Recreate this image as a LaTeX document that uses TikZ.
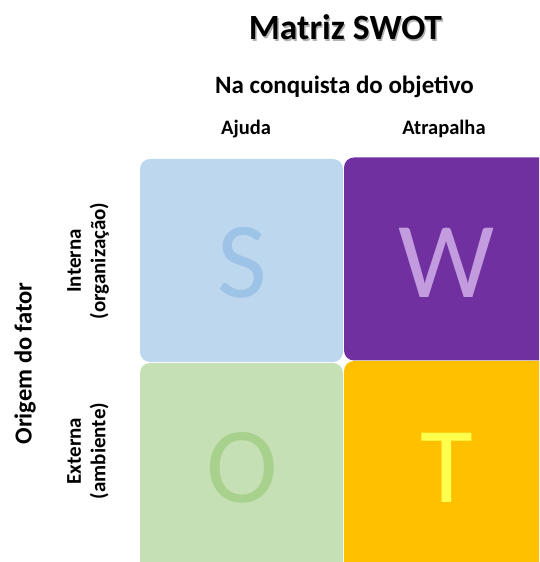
\documentclass[tikz,border=0pt]{standalone}
\usepackage{fontspec}
\setmainfont{Carlito}
\definecolor{sbox}{HTML}{BDD7EE}
\definecolor{sletter}{HTML}{9DC3E6}
\definecolor{wbox}{HTML}{7030A0}
\definecolor{wletter}{HTML}{C39BDF}
\definecolor{obox}{HTML}{C5E0B4}
\definecolor{oletter}{HTML}{A9D18E}
\definecolor{tbox}{HTML}{FFC000}
\definecolor{tletter}{HTML}{FFFF4D}
\newcommand{\shadowtext}[1]{\rlap{\kern1.3pt\raisebox{-1.8pt}{\textcolor{black!30}{#1}}}#1}
\begin{document}
\begin{tikzpicture}[x=1pt,y=1pt,
  quad/.style={rounded corners=10pt, inner sep=0pt, minimum width=203pt, minimum height=203pt},
  letter/.style={inner sep=0pt, font=\fontsize{108}{108}\selectfont},
  head/.style={font=\bfseries\fontsize{20.5}{22}\selectfont},
  side/.style={font=\bfseries\fontsize{21}{24.5}\selectfont, rotate=90, align=center}]
\useasboundingbox (0,0) rectangle (539,562);
\clip (0,0) rectangle (539,562);
% title with shadow
\node[font=\bfseries\fontsize{35.5}{40}\selectfont] (title) at (345.5,534) {\shadowtext{Matriz SWOT}};
\node[font=\bfseries\fontsize{25}{28}\selectfont] (na) at (344.5,475) {Na conquista do objetivo};
\node[head] (ajuda) at (246,433) {Ajuda};
\node[head] (atrap) at (444,433) {Atrapalha};
% boxes
\node[quad, fill=sbox] (S) at (241.5,301.5) {};
\node[quad, fill=wbox, minimum width=205pt] (W) at (446.5,303) {};
\node[quad, fill=obox, minimum height=210pt] (O) at (241.5,94) {};
\node[quad, fill=tbox, minimum width=205pt, minimum height=212pt] (T) at (446.5,95) {};
% letters
\node[letter, text=sletter] (Sl) at (242,299) {S};
\node[letter, text=wletter] (Wl) at (447,299.5) {W};
\node[letter, text=oletter] (Ol) at (242,94) {O};
\node[letter, text=tletter] (Tl) at (447,94.5) {T};
% side labels
\node[side, font=\bfseries\fontsize{24.5}{28}\selectfont] (origem) at (25,198.5) {Origem do fator};
\node[side] (interna) at (88,301) {Interna\\(organização)};
\node[side] (externa) at (88,111) {Externa\\(ambiente)};
\end{tikzpicture}
\end{document}
